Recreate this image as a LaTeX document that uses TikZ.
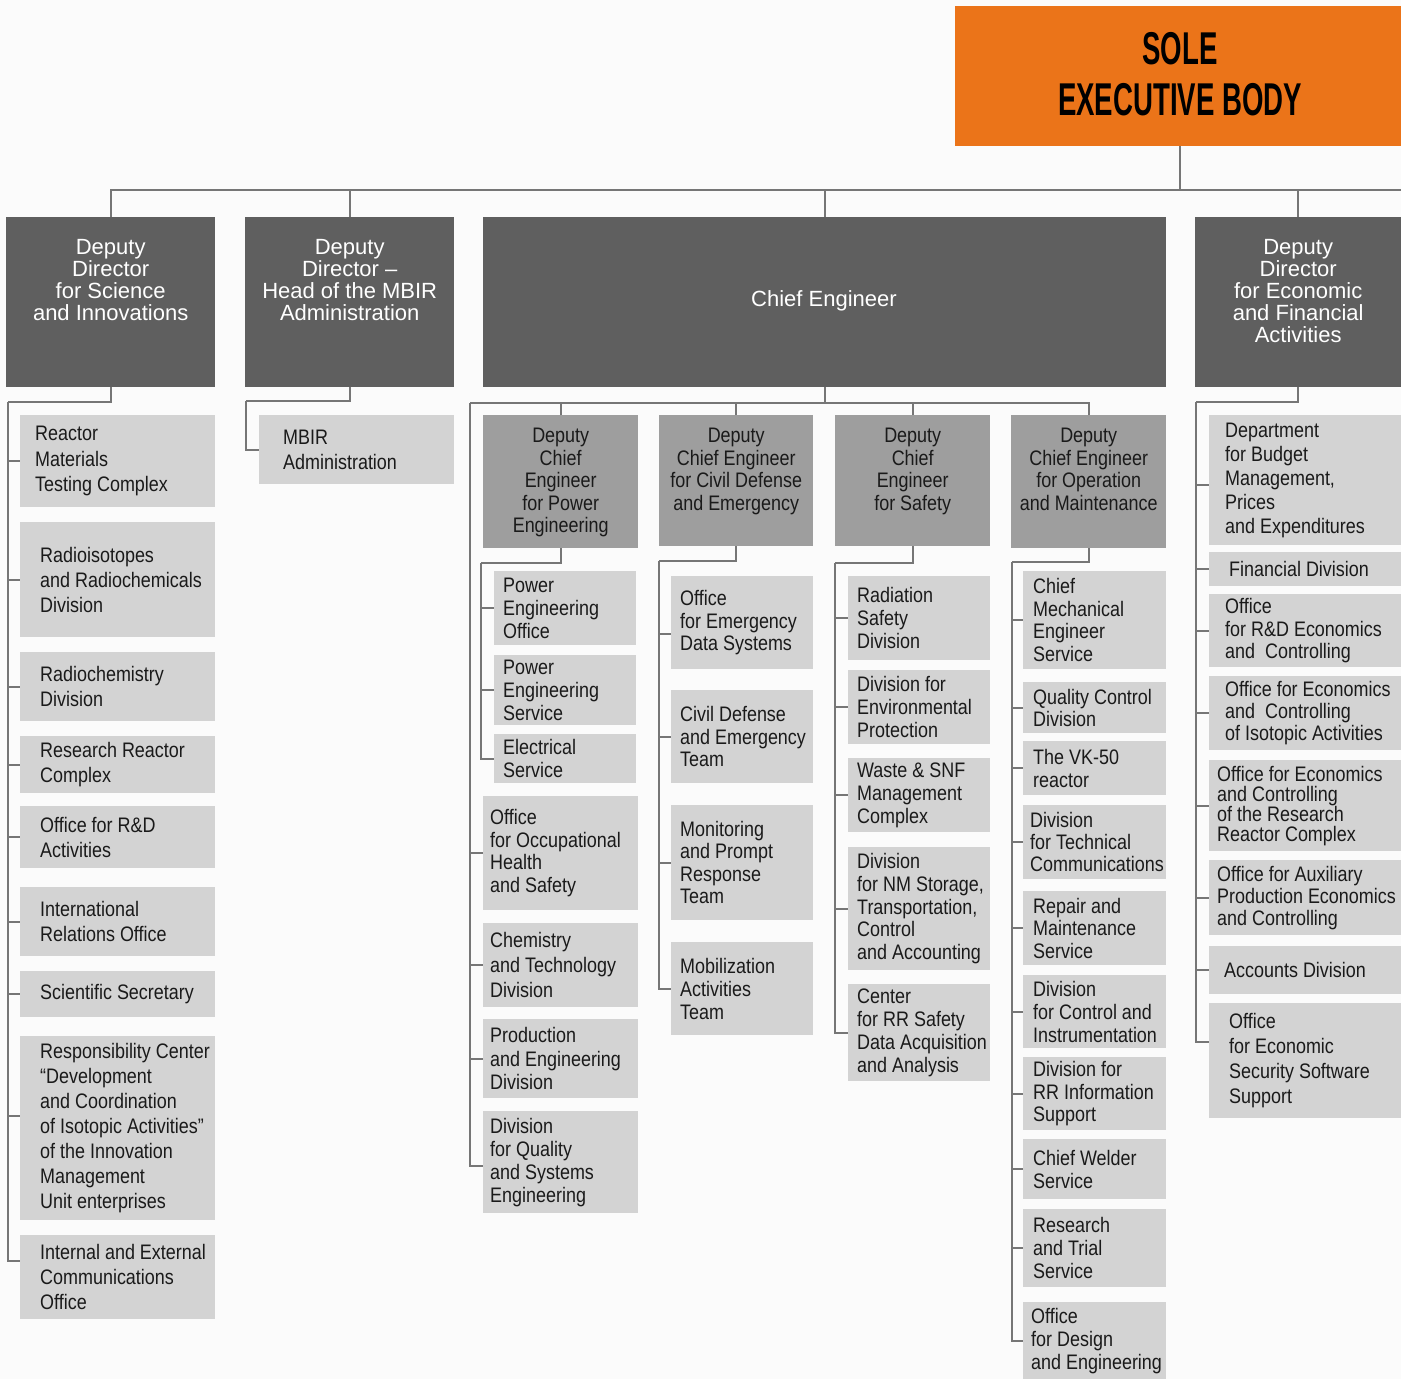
\documentclass[tikz,border=0pt]{standalone}
\usepackage{fontspec}
\setmainfont{Liberation Sans}
\newfontfamily\nar[FakeStretch=0.855]{Liberation Sans}
\newfontfamily\bebas[FakeStretch=0.6]{Liberation Sans}
\definecolor{bgc}{HTML}{FBFBFB}
\definecolor{orangec}{HTML}{EB7419}
\definecolor{boxdark}{HTML}{5F5F5F}
\definecolor{boxmid}{HTML}{9E9E9E}
\definecolor{boxlight}{HTML}{D3D3D3}
\definecolor{linec}{HTML}{767676}
\definecolor{txtdark}{HTML}{1A1A1A}
\tikzset{
  conn/.style={draw=linec, line width=1.8pt},
  boxone/.style={fill=boxdark},
  boxtwo/.style={fill=boxmid},
  leafbox/.style={fill=boxlight},
  solebox/.style={fill=orangec},
  onetext/.style={text=white, align=center, inner sep=0pt, font=\fontsize{22pt}{22pt}\selectfont},
  twotext/.style={text=txtdark, align=center, inner sep=0pt, font=\nar\fontsize{21pt}{22.5pt}\selectfont},
  leaftext/.style={text=txtdark, align=left, inner sep=0pt},
}
% style, name, x1, y1, x2, y2
\newcommand\mkbox[6]{%
  \pgfmathsetmacro\mywd{#5-#3}\pgfmathsetmacro\myht{#6-#4}%
  \node[#1, draw=none, anchor=north west, minimum width=\mywd pt, minimum height=\myht pt, inner sep=0pt] (#2) at (#3,#4) {};}
% name, x1, y1, x2, y2, pad, baselineskip, text
\newcommand\leafnode[8]{%
  \mkbox{leafbox}{#1}{#2}{#3}{#4}{#5}%
  \node[leaftext, anchor=west, font=\nar\fontsize{21pt}{#7pt}\selectfont] (#1t) at ([xshift=#6pt]#1.west) {#8};}
\begin{document}
\begin{tikzpicture}[x=1pt,y=-1pt]
\fill[bgc] (0,0) rectangle (1401,1379);
\useasboundingbox (0,0) rectangle (1401,1379);

% top
\mkbox{solebox}{sole}{955}{6}{1401}{146}
\node[anchor=north, align=center, inner sep=0pt, text=black, font=\bebas\bfseries\fontsize{46pt}{51pt}\selectfont] (solet) at (1180,32) {SOLE\\EXECUTIVE BODY};

% level 1
\mkbox{boxone}{dA}{6}{217}{215}{387}
\mkbox{boxone}{dB}{245}{217}{454}{387}
\mkbox{boxone}{CE}{483}{217}{1166}{387}
\mkbox{boxone}{dD}{1195}{217}{1401}{387}
\node[onetext, anchor=north] (dAt) at ([yshift=-22pt]dA.north) {Deputy\\Director\\for Science\\and Innovations};
\node[onetext, anchor=north] (dBt) at ([yshift=-22pt]dB.north) {Deputy\\Director –\\Head of the MBIR\\Administration};
\node[onetext] (CEt) at (824,301) {Chief Engineer};
\node[onetext, anchor=north] (dDt) at ([yshift=-22pt]dD.north) {Deputy\\Director\\for Economic\\and Financial\\Activities};

\coordinate (busR) at (1401,190);
\draw[conn] ([xshift=2pt]sole.south) -- ([xshift=2pt]sole.south |- busR);
\draw[conn] (dA.north) |- (busR);
\draw[conn] (dB.north) -- (dB.north |- busR);
\draw[conn] (CE.north) -- (CE.north |- busR);
\draw[conn] (dD.north) -- (dD.north |- busR);

% level 2
\mkbox{boxtwo}{P}{483}{415}{638}{548}
\mkbox{boxtwo}{CD}{659}{415}{813}{546}
\mkbox{boxtwo}{S}{835}{415}{990}{546}
\mkbox{boxtwo}{OM}{1011}{415}{1166}{548}
\node[twotext, anchor=north] (Pt) at ([yshift=-13pt]P.north) {Deputy\\Chief\\Engineer\\for Power\\Engineering};
\node[twotext, anchor=north] (CDt) at ([yshift=-13pt]CD.north) {Deputy\\Chief Engineer\\for Civil Defense\\and Emergency};
\node[twotext, anchor=north] (St) at ([yshift=-13pt]S.north) {Deputy\\Chief\\Engineer\\for Safety};
\node[twotext, anchor=north] (OMt) at ([yshift=-13pt]OM.north) {Deputy\\Chief Engineer\\for Operation\\and Maintenance};

% left column
\leafnode{a1}{20}{415}{215}{507}{15}{25.5}{Reactor\\Materials\\Testing Complex}
\leafnode{a2}{20}{522}{215}{637}{20}{25}{Radioisotopes\\and Radiochemicals\\Division}
\leafnode{a3}{20}{652}{215}{721}{20}{25}{Radiochemistry\\Division}
\leafnode{a4}{20}{736}{215}{793}{20}{25}{Research Reactor\\Complex}
\leafnode{a5}{20}{806}{215}{868}{20}{25}{Office for R\&D\\Activities}
\leafnode{a6}{20}{887}{215}{956}{20}{25}{International\\Relations Office}
\leafnode{a7}{20}{971}{215}{1017}{20}{25}{Scientific Secretary}
\leafnode{a8}{20}{1036}{215}{1220}{20}{25}{Responsibility Center\\“Development\\and Coordination\\of Isotopic Activities”\\of the Innovation\\Management\\Unit enterprises}
\leafnode{a9}{20}{1235}{215}{1319}{20}{25}{Internal and External\\Communications\\Office}

% MBIR
\leafnode{b1}{259}{415}{454}{484}{24}{25}{MBIR\\Administration}

% power engineering
\leafnode{p1}{494}{571}{636}{645}{9}{23}{Power\\Engineering\\Office}
\leafnode{p2}{494}{655}{636}{725}{9}{23}{Power\\Engineering\\Service}
\leafnode{p3}{494}{734}{636}{783}{9}{23}{Electrical\\Service}

% chief engineer direct
\leafnode{c1}{483}{796}{638}{910}{7}{22.5}{Office\\for Occupational\\Health\\and Safety}
\leafnode{c2}{483}{923}{638}{1007}{7}{25}{Chemistry\\and Technology\\Division}
\leafnode{c3}{483}{1019}{638}{1098}{7}{23.5}{Production\\and Engineering\\Division}
\leafnode{c4}{483}{1111}{638}{1213}{7}{23}{Division\\for Quality\\and Systems\\Engineering}

% civil defense
\leafnode{d1}{671}{576}{813}{669}{9}{22.5}{Office\\for Emergency\\Data Systems}
\leafnode{d2}{671}{690}{813}{783}{9}{22.5}{Civil Defense\\and Emergency\\Team}
\leafnode{d3}{671}{805}{813}{920}{9}{22.5}{Monitoring\\and Prompt\\Response\\Team}
\leafnode{d4}{671}{942}{813}{1035}{9}{23}{Mobilization\\Activities\\Team}

% safety
\leafnode{s1}{848}{576}{990}{660}{9}{23}{Radiation\\Safety\\Division}
\leafnode{s2}{848}{670}{990}{744}{9}{23}{Division for\\Environmental\\Protection}
\leafnode{s3}{848}{758}{990}{832}{9}{23}{Waste \& SNF\\Management\\Complex}
\leafnode{s4}{848}{847}{990}{970}{9}{22.8}{Division\\for NM Storage,\\Transportation,\\Control\\and Accounting}
\leafnode{s5}{848}{984}{990}{1081}{9}{23}{Center\\for RR Safety\\Data Acquisition\\and Analysis}

% operation and maintenance
\leafnode{o1}{1023}{571}{1166}{669}{10}{22.5}{Chief\\Mechanical\\Engineer\\Service}
\leafnode{o2}{1023}{682}{1166}{733}{10}{22}{Quality Control\\Division}
\leafnode{o3}{1023}{741}{1166}{795}{10}{23}{The VK-50\\reactor}
\leafnode{o4}{1023}{805}{1166}{879}{7}{22}{Division\\for Technical\\Communications}
\leafnode{o5}{1023}{891}{1166}{965}{10}{22.5}{Repair and\\Maintenance\\Service}
\leafnode{o6}{1023}{975}{1166}{1048}{10}{23}{Division\\for Control and\\Instrumentation}
\leafnode{o7}{1023}{1057}{1166}{1130}{10}{22.5}{Division for\\RR Information\\Support}
\leafnode{o8}{1023}{1139}{1166}{1199}{10}{23}{Chief Welder\\Service}
\leafnode{o9}{1023}{1209}{1166}{1287}{10}{23}{Research\\and Trial\\Service}
\leafnode{o10}{1023}{1302}{1166}{1379}{8}{23}{Office\\for Design\\and Engineering}

% economic column
\leafnode{r1}{1209}{415}{1401}{545}{16}{24}{Department\\for Budget\\Management,\\Prices\\and Expenditures}
\leafnode{r2}{1209}{552}{1401}{586}{20}{24}{Financial Division}
\leafnode{r3}{1209}{594}{1401}{667}{16}{22.5}{Office\\for R\&D Economics\\and\ \ Controlling}
\leafnode{r4}{1209}{676}{1401}{750}{16}{22}{Office for Economics\\and\ \ Controlling\\of Isotopic Activities}
\leafnode{r5}{1209}{760}{1401}{851}{8}{20}{Office for Economics\\and Controlling\\of the Research\\Reactor Complex}
\leafnode{r6}{1209}{860}{1401}{935}{8}{22}{Office for Auxiliary\\Production Economics\\and Controlling}
\leafnode{r7}{1209}{946}{1401}{994}{15}{24}{Accounts Division}
\leafnode{r8}{1209}{1003}{1401}{1118}{20}{25}{Office\\for Economic\\Security Software\\Support}

% connectors: left column
\coordinate (ab) at (8,402);
\draw[conn] (dA.south) |- (ab);
\foreach \n in {a1,a2,a3,a4,a5,a6,a7} \draw[conn] (ab) |- (\n.west);
\draw[conn] (ab) |- ([yshift=12pt]a8.west);
\draw[conn] (ab) |- ([yshift=16pt]a9.west);

% MBIR
\coordinate (bb) at (246,401);
\draw[conn] (dB.south) |- (bb);
\draw[conn] (bb) |- (b1.west);

% chief engineer bus
\coordinate (ceb) at (470,403);
\draw[conn] (CE.south) |- (ceb);
\draw[conn] (OM.north) |- (ceb);
\draw[conn] (P.north) -- (P.north |- ceb);
\draw[conn] (CD.north) -- (CD.north |- ceb);
\draw[conn] (S.north) -- (S.north |- ceb);
\foreach \n in {c1,c2,c3} \draw[conn] (ceb) |- (\n.west);
\draw[conn] (ceb) |- ([yshift=-4pt]c4.west);

% power engineering
\coordinate (pb) at (481,563);
\draw[conn] (P.south) |- (pb);
\foreach \n in {p1,p2,p3} \draw[conn] (pb) |- (\n.west);

% civil defense
\coordinate (cdb) at (659,561);
\draw[conn] (CD.south) |- (cdb);
\draw[conn] (cdb) |- ([yshift=-11pt]d1.west);
\foreach \n in {d2,d3,d4} \draw[conn] (cdb) |- (\n.west);

% safety
\coordinate (sb) at (835,563);
\draw[conn] (S.south) |- (sb);
\foreach \n in {s1,s2,s3,s4,s5} \draw[conn] (sb) |- (\n.west);

% operation
\coordinate (omb) at (1012,562);
\draw[conn] (OM.south) |- (omb);
\foreach \n in {o1,o2,o3,o4,o5,o6,o7,o8,o9,o10} \draw[conn] (omb) |- (\n.west);

% economic
\coordinate (db) at (1196,402);
\draw[conn] (dD.south) |- (db);
\draw[conn] (db) |- ([yshift=-5pt]r1.west);
\foreach \n in {r2,r3,r4,r5,r6,r7} \draw[conn] (db) |- (\n.west);
\draw[conn] (db) |- ([yshift=19pt]r8.west);
\end{tikzpicture}
\end{document}
